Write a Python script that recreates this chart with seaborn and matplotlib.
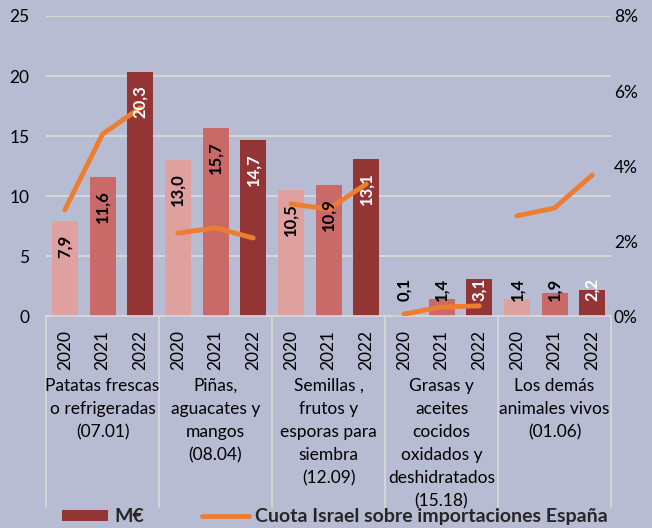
import numpy as np
import pandas as pd
import matplotlib
matplotlib.use("Agg")
import matplotlib.pyplot as plt
import seaborn as sns
from matplotlib.patches import Patch
from matplotlib.lines import Line2D

categories = [
    "Patatas frescas\no refrigeradas\n(07.01)",
    "Piñas,\naguacates y\nmangos\n(08.04)",
    "Semillas ,\nfrutos y\nesporas para\nsiembra\n(12.09)",
    "Grasas y\naceites\ncocidos\noxidados y\ndeshidratados\n(15.18)",
    "Los demás\nanimales vivos\n(01.06)",
]
years = ["2020", "2021", "2022"]
values_2020 = [7.9, 13.0, 10.5, 0.1, 1.4]
values_2021 = [11.6, 15.7, 10.9, 1.4, 1.9]
values_2022 = [20.3, 14.7, 13.1, 3.1, 2.2]
share_2020 = [2.83, 2.21, 2.99, 0.05, 2.67]
share_2021 = [4.85, 2.35, 2.85, 0.24, 2.88]
share_2022 = [5.55, 2.08, 3.52, 0.27, 3.76]
label_2020 = ["7,9", "13,0", "10,5", "0,1", "1,4"]
label_2021 = ["11,6", "15,7", "10,9", "1,4", "1,9"]
label_2022 = ["20,3", "14,7", "13,1", "3,1", "2,2"]

BG = "#B8BCD3"
GRID = "#D9D9D9"
bar_colors = ["#DFA0A0", "#C96A69", "#943535"]
line_color = "#ED7D31"
FONT = ["Lato", "DejaVu Sans"]

sns.set_theme(style="white")
plt.rcParams["font.family"] = FONT

rows = []
for i, cat in enumerate(categories):
    for j, (vals, shares, labs) in enumerate(zip(
            [values_2020, values_2021, values_2022],
            [share_2020, share_2021, share_2022],
            [label_2020, label_2021, label_2022])):
        rows.append({"grupo": i, "año": years[j], "valor": vals[i],
                     "cuota": shares[i], "etiqueta": labs[i],
                     "pos": i + (j - 1) / 3})
df = pd.DataFrame(rows)

fig = plt.figure(figsize=(6.52, 5.28), dpi=100, facecolor=BG)
ax = fig.add_axes([0.0706, 0.4015, 0.8666, 0.5682])
ax.set_facecolor(BG)

sns.barplot(data=df, x="grupo", y="valor", hue="año", palette=bar_colors,
            width=1.0, gap=0.31, ax=ax, legend=False, saturation=1,
            edgecolor="none")

ax.set_xlim(-0.5, len(categories) - 0.5)
ax.set_ylim(0, 25)
ax.set_yticks([0, 5, 10, 15, 20, 25])
ax.yaxis.grid(True, color=GRID, linewidth=1.3)
ax.set_axisbelow(True)
for s in ["left", "right", "top"]:
    ax.spines[s].set_visible(False)
ax.spines["bottom"].set_color(GRID)
ax.spines["bottom"].set_linewidth(1.2)
ax.set_xlabel("")
ax.set_ylabel("")
ax.set_xticks(df["pos"])
ax.set_xticklabels(df["año"], rotation=90, fontsize=12.5)
ax.tick_params(axis="both", length=0, labelsize=12.5, colors="black")
ax.tick_params(axis="x", pad=10)
ax.tick_params(axis="y", pad=12)

ax2 = ax.twinx()
ax2.set_ylim(0, 8)
ax2.set_yticks([0, 2, 4, 6, 8])
ax2.set_yticklabels(["0%", "2%", "4%", "6%", "8%"])
ax2.tick_params(axis="y", length=0, labelsize=12.5, colors="black", pad=2)
for s in ax2.spines.values():
    s.set_visible(False)
ax2.grid(False)

for g, sub in df.groupby("grupo"):
    sns.lineplot(data=sub, x="pos", y="cuota", ax=ax2, color=line_color,
                 linewidth=3.5, legend=False, sort=False)
ax2.set_xlabel("")
ax2.set_ylabel("")

# etiquetas de datos
for _, r in df.iterrows():
    y = max(r["valor"] - 1.1, 3.2)
    col = "white" if r["año"] == "2022" else "black"
    ax2.text(r["pos"], y, r["etiqueta"], transform=ax.transData,
             rotation=90, ha="center", va="top", fontsize=12,
             fontweight="bold", color=col, zorder=5)

# separadores y categorías
xt = matplotlib.transforms.blended_transform_factory(ax.transData, ax.transAxes)
for k in np.arange(-0.5, len(categories), 1.0):
    ax.plot([k, k], [0, -0.635], transform=xt, color=GRID, linewidth=1.2,
            clip_on=False)
for i, cat in enumerate(categories):
    ax.text(i, -0.205, cat, transform=xt, ha="center", va="top",
            fontsize=12.5, linespacing=1.55, color="black")

handles = [Patch(facecolor=bar_colors[2], edgecolor="none"),
           Line2D([0], [0], color=line_color, linewidth=3.5)]
leg = fig.legend(handles, ["M€", "Cuota Israel sobre importaciones España"],
                 loc="center", bbox_to_anchor=(0.513, 0.021), ncol=2,
                 frameon=False, handlelength=2.4, handleheight=0.5,
                 columnspacing=3.0, handletextpad=0.3,
                 prop={"family": FONT, "weight": "bold", "size": 14})

fig.savefig("out.png", dpi=100, facecolor=BG)
